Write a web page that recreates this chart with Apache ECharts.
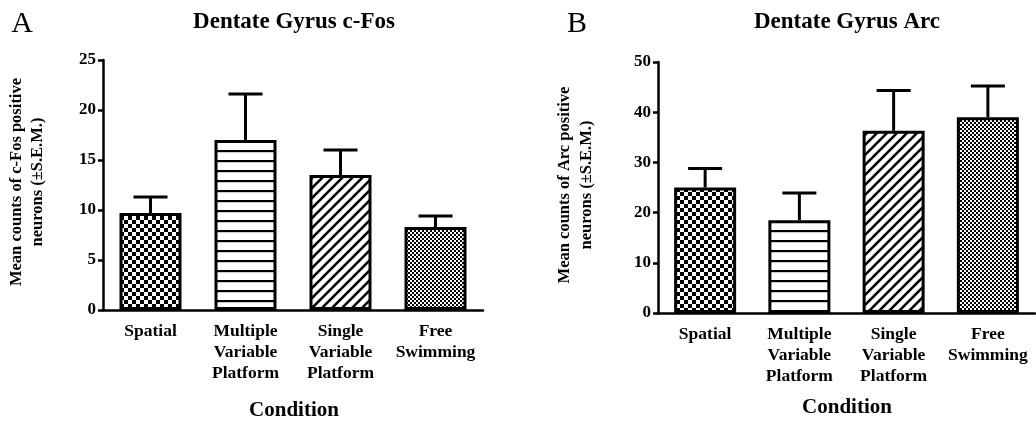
<!DOCTYPE html>
<html>
<head>
<meta charset="utf-8">
<script src="https://cdn.jsdelivr.net/npm/echarts@6/dist/echarts.min.js"></script>
<style>
html,body{margin:0;padding:0;background:#fff;}
#chart{width:1036px;height:425px;}
</style>
</head>
<body>
<div id="chart"></div>
<script>
const categories = ['Spatial', 'Multiple\nVariable\nPlatform', 'Single\nVariable\nPlatform', 'Free\nSwimming'];
const cfosMean = [9.7, 17.0, 13.5, 8.3];
const cfosSem = [1.6, 4.6, 2.5, 1.1];
const arcMean = [25.0, 18.5, 36.3, 39.0];
const arcSem = [3.8, 5.4, 8.0, 6.2];
const cfosTicks = { min: 0, max: 25, interval: 5 };
const arcTicks = { min: 0, max: 50, interval: 10 };

const FONT = "'Liberation Serif','Times New Roman',serif";

function mk(w, h, draw) {
  const c = document.createElement('canvas');
  c.width = w; c.height = h;
  const g = c.getContext('2d');
  g.fillStyle = '#fff'; g.fillRect(0, 0, w, h);
  g.fillStyle = '#000'; g.strokeStyle = '#000';
  draw(g);
  return c;
}
const checker = (s) => mk(2 * s, 2 * s, g => { g.fillRect(0, 0, s, s); g.fillRect(s, s, s, s); });
const hstripe = mk(10, 10, g => { g.fillRect(0, 0, 10, 2.2); });
const diag = mk(10, 10, g => {
  g.lineWidth = 2.6;
  [[0, 10, 10, 0], [-5, 5, 5, -5], [5, 15, 15, 5]].forEach(l => { g.beginPath(); g.moveTo(l[0], l[1]); g.lineTo(l[2], l[3]); g.stroke(); });
});
const patterns = [checker(4), hstripe, diag, checker(2)];

function barData(vals) {
  return vals.map((v, i) => ({ value: v, itemStyle: { color: { image: patterns[i], repeat: 'repeat' } } }));
}
function errData(mean, sem) {
  return mean.map((m, i) => [i, m, m + sem[i]]);
}
function errRender(params, api) {
  const x = api.value(0);
  const p0 = api.coord([x, api.value(1)]);
  const p1 = api.coord([x, api.value(2)]);
  const hw = 17;
  const st = { stroke: '#000', lineWidth: 3 };
  return {
    type: 'group',
    children: [
      { type: 'line', shape: { x1: p0[0], y1: p0[1], x2: p1[0], y2: p1[1] }, style: st },
      { type: 'line', shape: { x1: p1[0] - hw, y1: p1[1], x2: p1[0] + hw, y2: p1[1] }, style: st }
    ]
  };
}

function xAxis(gi) {
  return {
    type: 'category', gridIndex: gi, data: categories,
    axisLine: { lineStyle: { color: '#000', width: 2.5 } },
    axisTick: { alignWithLabel: true, length: 5, lineStyle: { color: '#000', width: 2.5 } },
    axisLabel: { interval: 0, hideOverlap: false, color: '#000', fontFamily: FONT, fontWeight: 'bold', fontSize: 17.5, lineHeight: 21, margin: 11 }
  };
}
function yAxis(gi, t) {
  return {
    type: 'value', gridIndex: gi, min: t.min, max: t.max, interval: t.interval,
    splitLine: { show: false },
    axisLine: { show: true, lineStyle: { color: '#000', width: 2.5 } },
    axisTick: { show: true, length: 5, lineStyle: { color: '#000', width: 2.5 } },
    axisLabel: { color: '#000', fontFamily: FONT, fontWeight: 'bold', fontSize: 17, margin: 7 }
  };
}

function txt(text, x, y, font, rot, lh) {
  return {
    type: 'text', x: x, y: y, rotation: rot || 0,
    style: { text: text, font: font, fill: '#000', textAlign: 'center', textVerticalAlign: 'middle', lineHeight: lh || 21 }
  };
}

const chart = echarts.init(document.getElementById('chart'));
chart.setOption({
  animation: false,
  backgroundColor: '#fff',
  grid: [
    { left: 103, top: 60, width: 380, height: 250 },
    { left: 658, top: 62, width: 377, height: 251 }
  ],
  xAxis: [xAxis(0), xAxis(1)],
  yAxis: [yAxis(0, cfosTicks), yAxis(1, arcTicks)],
  series: [
    { type: 'bar', xAxisIndex: 0, yAxisIndex: 0, data: barData(cfosMean), barWidth: 62,
      itemStyle: { borderColor: '#000', borderWidth: 3 } },
    { type: 'bar', xAxisIndex: 1, yAxisIndex: 1, data: barData(arcMean), barWidth: 62,
      itemStyle: { borderColor: '#000', borderWidth: 3 } },
    { type: 'custom', xAxisIndex: 0, yAxisIndex: 0, data: errData(cfosMean, cfosSem), renderItem: errRender, z: 1 },
    { type: 'custom', xAxisIndex: 1, yAxisIndex: 1, data: errData(arcMean, arcSem), renderItem: errRender, z: 1 }
  ],
  graphic: [
    txt('A', 22, 24, "30px " + FONT),
    txt('B', 577, 24, "30px " + FONT),
    txt('Dentate Gyrus c-Fos', 294, 22, "bold 23px " + FONT),
    txt('Dentate Gyrus Arc', 847, 22, "bold 23px " + FONT),
    txt('Condition', 294, 411, "bold 21px " + FONT),
    txt('Condition', 847, 408, "bold 21px " + FONT),
    txt('Mean counts of c-Fos positive\nneurons (±S.E.M.)', 27, 182, "bold 16.5px " + FONT, Math.PI / 2, 21),
    txt('Mean counts of Arc positive\nneurons (±S.E.M.)', 576, 185, "bold 16.5px " + FONT, Math.PI / 2, 22)
  ]
});
</script>
</body>
</html>
